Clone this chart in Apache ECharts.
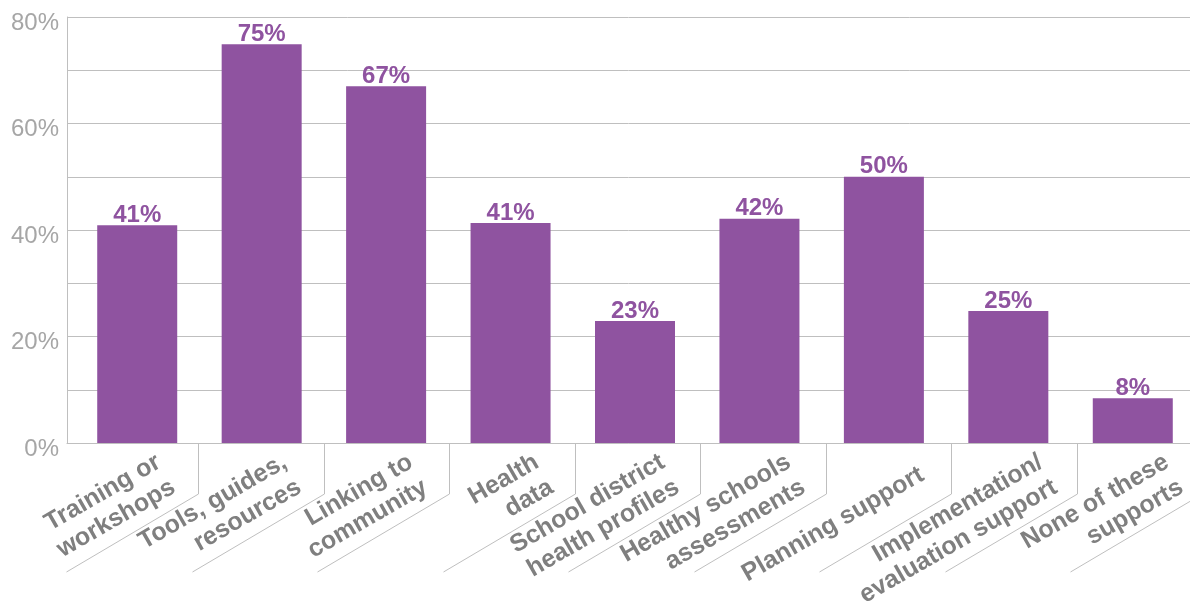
<!DOCTYPE html>
<html>
<head>
  <meta charset="utf-8">
  <script src="https://cdn.jsdelivr.net/npm/echarts@6/dist/echarts.min.js"></script>
  <style>
    html, body { margin: 0; padding: 0; background: #fff; }
    #supportChart { width: 1190px; height: 605px; }
  </style>
</head>
<body>
<div id="supportChart"></div>
<script>
  // categories (line breaks as in the picture)
  const categories = [
    'Training or\nworkshops',
    'Tools, guides,\nresources',
    'Linking to\ncommunity',
    'Health\ndata',
    'School district\nhealth profiles',
    'Healthy schools\nassessments',
    'Planning support',
    'Implementation/\nevaluation support',
    'None of these\nsupports',
  ];

  // share of respondents, %
  const shares = [40.9, 74.9, 67, 41.3, 22.9, 42.1, 50, 24.8, 8.4];

  // y axis
  const yMin = 0;
  const yMax = 80;
  const yStep = 10;
  const yLabelStep = 20;

  const purple = '#8f53a0';
  const lineGrey = '#bfbfbf';
  const fontFamily = '"Liberation Sans", Arial, Helvetica, sans-serif';

  const myChart = echarts.init(document.getElementById('supportChart'));

  const hiddenY = (gridIndex) => ({
    type: 'value',
    gridIndex: gridIndex,
    min: yMin,
    max: yMax,
    interval: yStep,
    show: false,
  });

  const hiddenX = (gridIndex) => ({
    type: 'category',
    gridIndex: gridIndex,
    data: categories,
    axisLine: { show: false },
    axisTick: { show: false },
    axisLabel: { show: false },
  });

  const plotGrid = (left, width) => ({
    left: left,
    top: 17,
    width: width,
    height: 426,
    outerBoundsMode: 'none',
    containLabel: false,
  });

  let option = {
    animation: false,
    backgroundColor: '#fff',
    grid: [
      // frame: y axis and gridlines
      plotGrid(67, 1123),
      // bars
      plotGrid(75, 1120),
      // category labels (spread a little wider than the bars, as in the original)
      plotGrid(103, 1134),
      // boundary ticks
      plotGrid(73, 1129),
    ],
    xAxis: [
      {
        type: 'category',
        gridIndex: 0,
        data: [''],
        axisLine: { show: true, lineStyle: { color: lineGrey, width: 1 } },
        axisTick: { show: false },
        axisLabel: { show: false },
      },
      hiddenX(1),
      {
        type: 'category',
        gridIndex: 2,
        data: categories,
        axisLine: { show: false },
        axisTick: { show: false },
        axisLabel: {
          interval: 0,
          rotate: 30,
          margin: 30,
          color: '#7f7f7f',
          fontFamily: fontFamily,
          fontWeight: 'bold',
          fontSize: 25,
          lineHeight: 29,
        },
      },
      hiddenX(3),
    ],
    yAxis: [
      {
        type: 'value',
        gridIndex: 0,
        min: yMin,
        max: yMax,
        interval: yStep,
        axisLine: { show: true, lineStyle: { color: lineGrey, width: 1 } },
        axisTick: { show: false },
        splitLine: { show: true, lineStyle: { color: lineGrey, width: 1 } },
        axisLabel: {
          margin: 8,
          verticalAlign: 'top',
          lineHeight: 12,
          color: '#a6a6a6',
          fontFamily: fontFamily,
          fontSize: 24,
          formatter: (v) => (v % yLabelStep === 0 ? v + '%' : ''),
        },
      },
      hiddenY(1),
      hiddenY(2),
      hiddenY(3),
    ],
    series: [
      {
        type: 'bar',
        xAxisIndex: 1,
        yAxisIndex: 1,
        data: shares,
        barWidth: 80,
        itemStyle: { color: purple },
        label: {
          show: true,
          position: 'top',
          distance: 0,
          offset: [0, 2],
          color: purple,
          fontFamily: fontFamily,
          fontWeight: 'bold',
          fontSize: 24,
          formatter: (p) => Math.round(p.value) + '%',
        },
      },
    ],
  };
  myChart.setOption(option);

  // vertical ticks at the category boundaries, then slanted lines under each label
  const drawTickLines = () => {
    const x0 = myChart.convertToPixel({ xAxisIndex: 3 }, 0);
    const x1 = myChart.convertToPixel({ xAxisIndex: 3 }, 1);
    const band = x1 - x0;
    const yBase = myChart.convertToPixel({ yAxisIndex: 3 }, 0);
    const tickLen = 51;
    const slantDx = 132;
    const slantDy = 78;
    let elements = [];
    categories.forEach((c, i) => {
      const xr = Math.round(myChart.convertToPixel({ xAxisIndex: 3 }, i) + band / 2) + 0.5;
      elements.push({
        type: 'polyline',
        silent: true,
        shape: {
          points: [
            [xr, yBase],
            [xr, yBase + tickLen],
            [xr - slantDx, yBase + tickLen + slantDy],
          ],
        },
        style: { stroke: lineGrey, lineWidth: 1, fill: null },
      });
    });
    myChart.setOption({ graphic: { elements: elements } });
  };
  drawTickLines();
</script>
</body>
</html>
